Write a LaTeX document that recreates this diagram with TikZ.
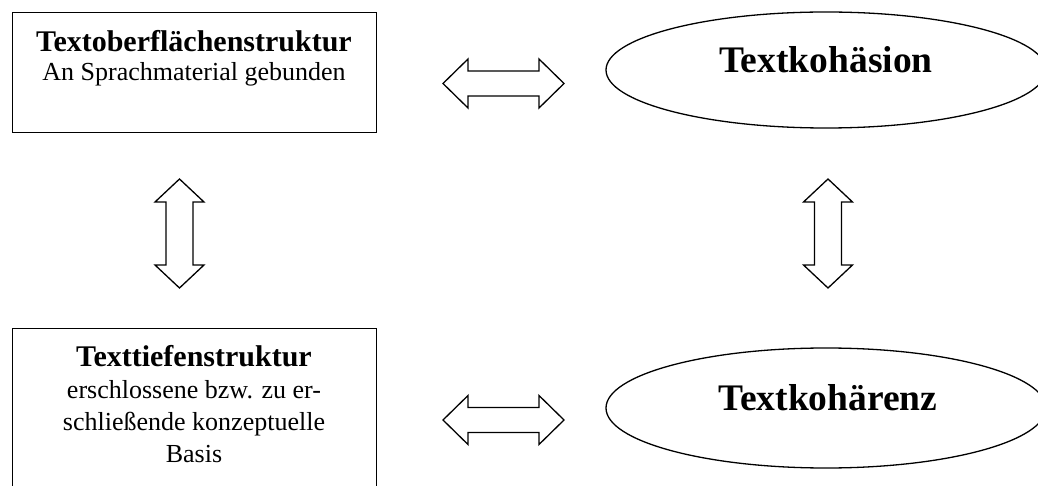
\documentclass[tikz,border=0pt]{standalone}
\usepackage{fontspec}
\setmainfont{Liberation Serif}
\usetikzlibrary{calc,shapes.geometric}
\newcommand\blockH[2]{\draw[blk] (#1) -- ([shift={(25,-24.5)}]#1) -- ([shift={(25,-12.5)}]#1) -- ([shift={(-25,-12.5)}]#2) -- ([shift={(-25,-24.5)}]#2) -- (#2) -- ([shift={(-25,24.5)}]#2) -- ([shift={(-25,12.5)}]#2) -- ([shift={(25,12.5)}]#1) -- ([shift={(25,24.5)}]#1) -- cycle;}
\newcommand\blockV[2]{\draw[blk] (#1) -- ([shift={(24.5,23)}]#1) -- ([shift={(13.5,23)}]#1) -- ([shift={(13.5,-23)}]#2) -- ([shift={(24.5,-23)}]#2) -- (#2) -- ([shift={(-24.5,-23)}]#2) -- ([shift={(-13.5,-23)}]#2) -- ([shift={(-13.5,23)}]#1) -- ([shift={(-24.5,23)}]#1) -- cycle;}
\tikzset{
  box/.style={draw, line width=1.4pt, rectangle, inner sep=0pt, anchor=north west},
  oval/.style={draw, line width=1.3pt, ellipse, inner sep=0pt, minimum width=440pt, minimum height=116pt},
  blk/.style={draw, line width=1.3pt, fill=white, line join=miter},
  ttl/.style={anchor=base, inner sep=0pt, font=\fontsize{30}{36}\selectfont\bfseries},
  txt/.style={anchor=base, inner sep=0pt, font=\fontsize{26}{31}\selectfont},
  big/.style={anchor=base, inner sep=0pt, font=\fontsize{37.5}{45}\selectfont\bfseries}
}
\begin{document}
\begin{tikzpicture}[x=1pt,y=-1pt]
\clip (0,0) rectangle (1038,486);
\fill[white] (0,0) rectangle (1038,486);
% top left box
\node[box, minimum width=364pt, minimum height=120pt] (tl) at (12,12) {};
\node[ttl] (tlt) at (194,52) {Textoberflächenstruktur};
\node[txt] (tls) at (194,81) {An Sprachmaterial gebunden};
% bottom left box
\node[box, minimum width=364pt, minimum height=180pt] (bl) at (12,328) {};
\node[ttl] (blt) at (194,366) {Texttiefenstruktur};
\node[txt] (bl1) at (194,398) {erschlossene bzw. zu er-};
\node[txt] (bl2) at (194,430) {schließende konzeptuelle};
\node[txt] (bl3) at (194,462) {Basis};
% ellipses
\node[oval] (tr) at (826,70) {};
\node[big] (trt) at (826,73) {Textkohäsion};
\node[oval, minimum height=120pt] (br) at (826,408) {};
\node[big] (brt) at (828,410) {Textkohärenz};
% arrows
\coordinate (h1a) at (443,83.5);
\coordinate (h1b) at (564,83.5);
\blockH{h1a}{h1b}
\coordinate (h2a) at (443,420);
\coordinate (h2b) at (564,420);
\blockH{h2a}{h2b}
\coordinate (v1a) at (179.5,179);
\coordinate (v1b) at (179.5,288);
\blockV{v1a}{v1b}
\coordinate (v2a) at (828,179);
\coordinate (v2b) at (828,288);
\blockV{v2a}{v2b}
\end{tikzpicture}
\end{document}
